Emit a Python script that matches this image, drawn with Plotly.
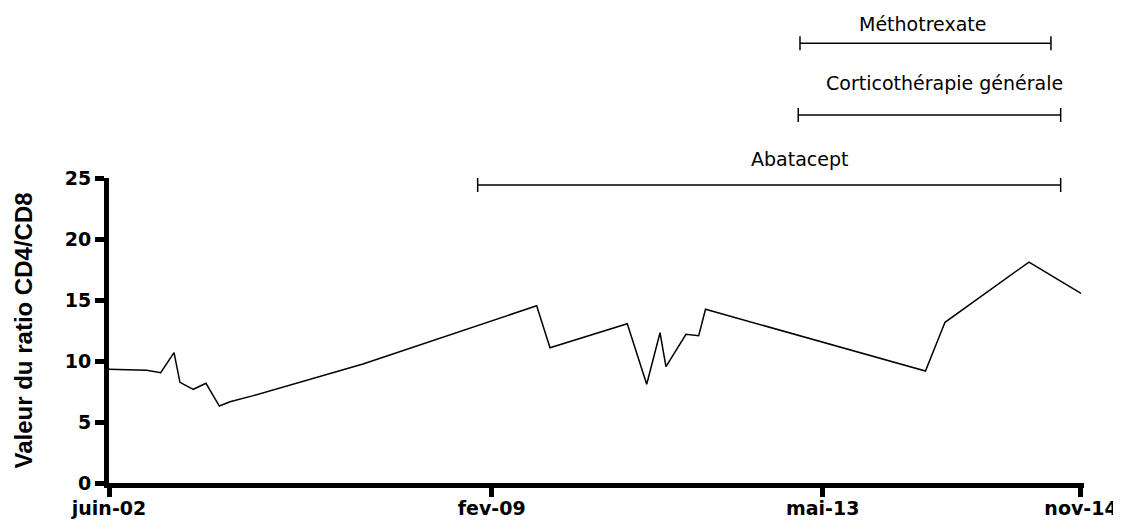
import plotly.graph_objects as go

# CD4/CD8 ratio over time (x is position along the time axis, 0 = juin-02, 100 = nov-14)
x_pos = [0, 3.88, 5.32, 6.69, 7.30, 8.67, 9.98, 11.35, 12.45, 14.85, 26.13,
         44.00, 45.37, 53.32, 55.32, 56.69, 57.30, 59.36, 60.67, 61.37,
         84.00, 86.01, 94.65, 100.0]
ratio = [9.32, 9.24, 9.04, 10.68, 8.25, 7.68, 8.17, 6.31, 6.66, 7.16, 9.75,
         14.53, 11.09, 13.06, 8.09, 12.32, 9.53, 12.19, 12.07, 14.24,
         9.18, 13.17, 18.11, 15.55]

tick_pos = [0, 39.37, 73.42, 100]
tick_text = ["juin-02", "fev-09", "mai-13", "nov-14"]

# treatment periods
treatments = ["Abatacept", "Corticothérapie générale", "Méthotrexate"]
t_start = [37.93, 70.91, 71.09]
t_end = [97.91, 97.91, 96.91]

# layout of the treatment bars (paper y) and their labels
bar_y = [0.977, 1.2066, 1.4416]
label_x = [71.05, 85.97, 83.69]
label_y = [1.061, 1.311, 1.505]

fig = go.Figure()
fig.add_trace(go.Scatter(x=x_pos, y=ratio, mode="lines",
                         line=dict(color="black", width=1.5),
                         showlegend=False, hoverinfo="skip"))

for i in range(len(treatments)):
    fig.add_shape(type="line", xref="x", yref="paper",
                  x0=t_start[i], x1=t_end[i], y0=bar_y[i], y1=bar_y[i],
                  line=dict(color="black", width=1.5))
    for xc in (t_start[i], t_end[i]):
        fig.add_shape(type="line", xref="x", yref="paper", ysizemode="pixel",
                      yanchor=bar_y[i], x0=xc, x1=xc, y0=-7, y1=7,
                      line=dict(color="black", width=1.5))
    fig.add_annotation(x=label_x[i], y=label_y[i], xref="x", yref="paper",
                       text=treatments[i], showarrow=False,
                       xanchor="center", yanchor="middle",
                       font=dict(family="DejaVu Sans", size=19, color="black"))

fig.add_annotation(x=-0.0882, y=0.5, xref="paper", yref="paper",
                   text="Valeur du ratio CD4/CD8", textangle=-90, showarrow=False,
                   xanchor="center", yanchor="middle",
                   font=dict(family="Liberation Sans", size=24, color="black", weight="bold"))

axis_style = dict(showline=True, linewidth=5, linecolor="black",
                  ticks="outside", ticklen=9, tickwidth=5, tickcolor="black",
                  showgrid=False, zeroline=False, automargin=False,
                  tickfont=dict(family="DejaVu Sans", size=19, color="black", weight="bold"))

fig.update_xaxes(range=[0, 100.31], tickvals=tick_pos, ticktext=tick_text,
                 ticklabelstandoff=-5, **axis_style)
fig.update_yaxes(range=[0, 25], tickvals=[0, 5, 10, 15, 20, 25], **axis_style)

# the page body adds an 8px offset, so the figure is 8px smaller and shifted
fig.update_layout(width=1113, height=514,
                  margin=dict(l=101, r=37, t=170, b=39, autoexpand=False),
                  plot_bgcolor="white", paper_bgcolor="white")

fig.write_html("out.html")
